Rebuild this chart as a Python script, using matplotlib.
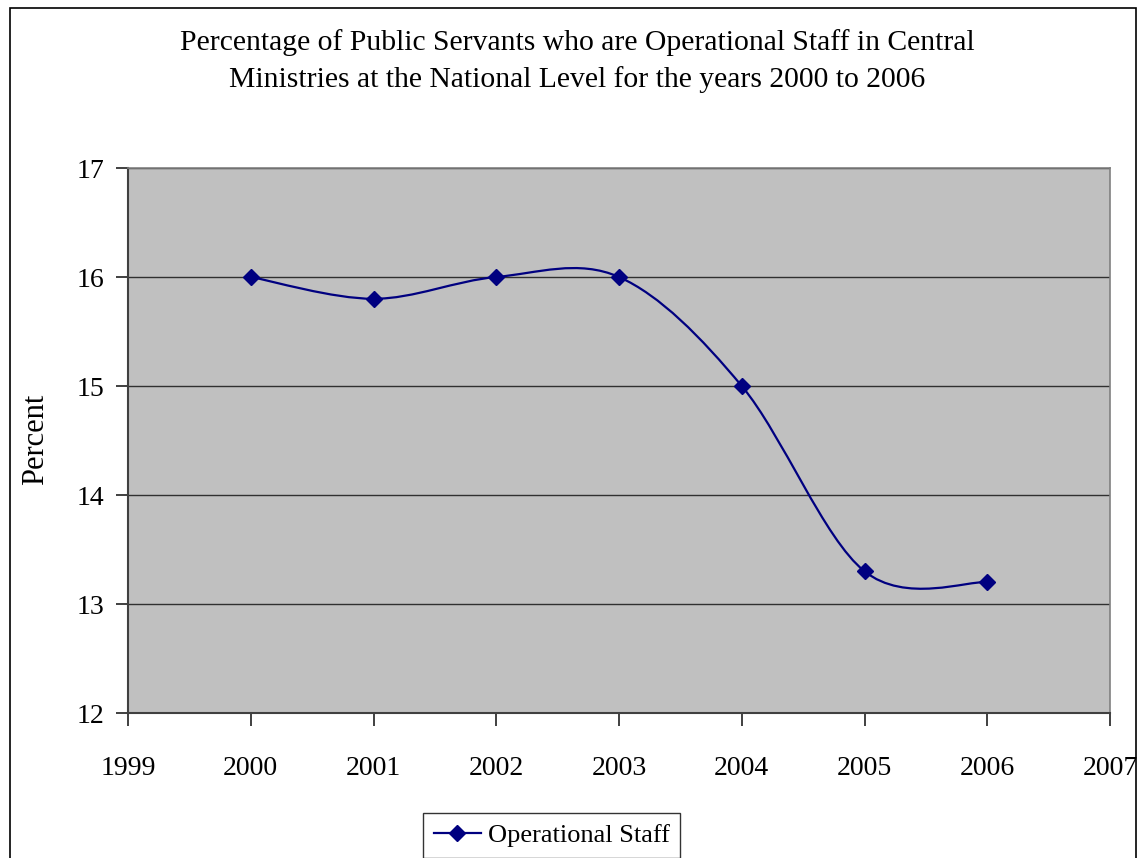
import matplotlib.pyplot as plt
from matplotlib.path import Path
from matplotlib.patches import PathPatch, Rectangle
from matplotlib.lines import Line2D

plt.rcParams['font.family'] = ['Liberation Serif', 'DejaVu Serif']

# data
years = [2000, 2001, 2002, 2003, 2004, 2005, 2006]
operational = [16.0, 15.8, 16.0, 16.0, 15.0, 13.3, 13.2]
series_name = 'Operational Staff'
title = ('Percentage of Public Servants who are Operational Staff in Central\n'
         'Ministries at the National Level for the years 2000 to 2006')

navy = '#000080'

fig = plt.figure(figsize=(11.41, 8.58), dpi=100)
ax = fig.add_axes([128 / 1141, 1 - 713 / 858, 982 / 1141, 545 / 858])
ax.set_facecolor('#C0C0C0')

# smoothed line like excel (bezier through the points)
verts = [(years[0], operational[0])]
codes = [Path.MOVETO]
n = len(years)
for i in range(n - 1):
    x0, y0 = (years[i - 1], operational[i - 1]) if i > 0 else (years[i], operational[i])
    x1, y1 = years[i], operational[i]
    x2, y2 = years[i + 1], operational[i + 1]
    x3, y3 = (years[i + 2], operational[i + 2]) if i + 2 < n else (x2, y2)
    c1 = (x1 + (x2 - x0) / 6, y1 + (y2 - y0) / 6)
    c2 = (x2 - (x3 - x1) / 6, y2 - (y3 - y1) / 6)
    verts += [c1, c2, (x2, y2)]
    codes += [Path.CURVE4] * 3
ax.add_patch(PathPatch(Path(verts, codes), facecolor='none', edgecolor=navy,
                       lw=1.6, zorder=3))
ax.plot(years, operational, ls='none', marker='D', ms=8, color=navy, zorder=4)

ax.set_xlim(1999, 2007)
ax.set_ylim(12, 17)
ax.set_xticks(range(1999, 2008))
ax.set_yticks(range(12, 18))
ax.yaxis.grid(True, color='#303030', lw=1)
ax.set_axisbelow(True)
ax.tick_params(axis='both', labelsize=20, length=9, width=1.2, color='#202020')
ax.tick_params(axis='x', pad=22)
ax.tick_params(axis='y', pad=8)
for s in ['left', 'bottom']:
    ax.spines[s].set_color('#404040')
    ax.spines[s].set_linewidth(1.5)
for s in ['top', 'right']:
    ax.spines[s].set_color('#808080')
    ax.spines[s].set_linewidth(1.2)

fig.text(36 / 1141, 1 - 439 / 858, 'Percent', rotation=90, fontsize=22,
         ha='center', va='center')
fig.text(577 / 1141, 1 - 61 / 858, title, fontsize=21.3, ha='center', va='center',
         linespacing=1.5)

# figure border
fig.patches.append(Rectangle((10 / 1141, -0.02), 1126 / 1141, 1 - 8 / 858 + 0.02,
                             transform=fig.transFigure, fill=False,
                             edgecolor='black', lw=1.2))

handle = Line2D([], [], color=navy, marker='D', ms=8, lw=1.6)
leg = fig.legend([handle], [series_name], loc='upper left',
                 bbox_to_anchor=(423 / 1141, 1 - 813 / 858), fontsize=19,
                 frameon=True, fancybox=False, borderpad=0.4, borderaxespad=0,
                 handlelength=1.8, handletextpad=0.25)
leg.get_frame().set_edgecolor('black')
leg.get_frame().set_linewidth(1.0)

fig.savefig('out.png', dpi=100)
